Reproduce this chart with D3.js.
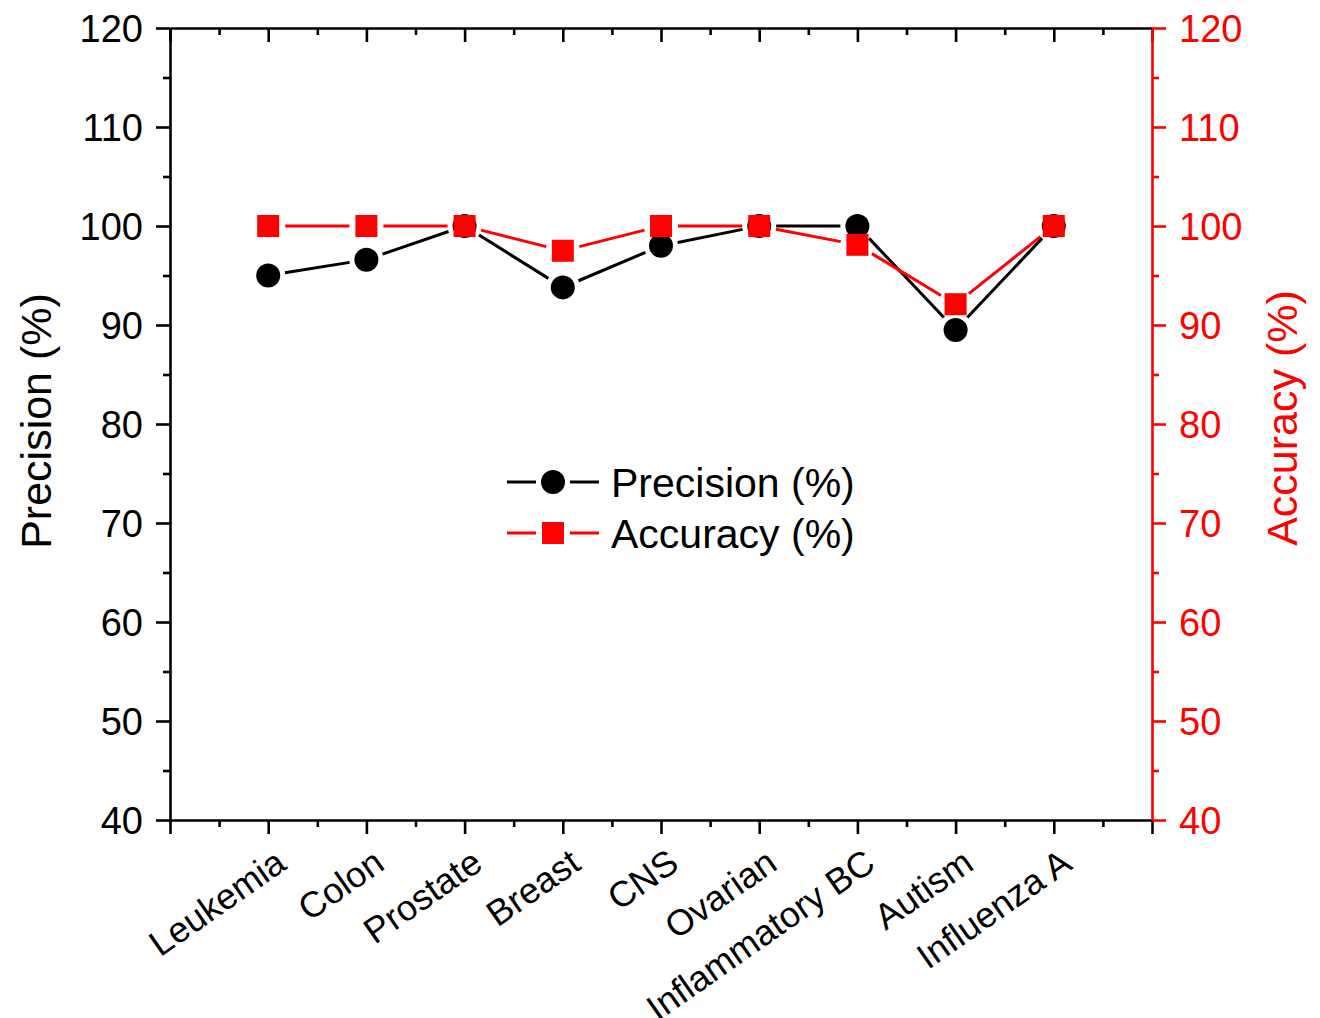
<!DOCTYPE html>
<html>
<head>
<meta charset="utf-8">
<script src="https://cdn.jsdelivr.net/npm/d3@7"></script>
<style>
  html, body { margin: 0; padding: 0; background: #ffffff; }
  svg { display: block; font-family: "Liberation Sans", Arial, sans-serif; }
</style>
</head>
<body>
<svg id="chart" width="1320" height="1018"></svg>
<script>
// Datasets and their classification scores
const categories = ["Leukemia", "Colon", "Prostate", "Breast", "CNS", "Ovarian", "Inflammatory BC", "Autism", "Influenza A"];
const precision = [95, 96.6, 100, 93.8, 98, 100, 100, 89.5, 100];
const accuracy  = [100, 100, 100, 97.5, 100, 100, 98.1, 92.1, 100];
const yTicks = [40, 50, 60, 70, 80, 90, 100, 110, 120];
const seriesNames = ["Precision (%)", "Accuracy (%)"];

const svg = d3.select("#chart");
const plotLeft = 170, plotRight = 1152, plotTop = 28, plotBottom = 820;
const RED = "#ff0000";

// x positions: categories at 1..9 on a 0..10 domain
const x = d3.scaleLinear().domain([0, categories.length + 1]).range([plotLeft, plotRight]);
const yL = d3.scaleLinear().domain([40, 120]).range([plotBottom, plotTop]);
const yR = d3.scaleLinear().domain([40, 120]).range([plotBottom, plotTop]);

const majorX = d3.range(0, categories.length + 2);
const minorX = d3.range(0.5, categories.length + 1, 1);
const minorY = d3.range(45, 120, 10);

function styleAxis(g, color) {
  g.select(".domain").attr("stroke", color).attr("stroke-width", 2.6);
  g.selectAll(".tick line").attr("stroke", color).attr("stroke-width", 2.6);
  g.selectAll(".tick text").attr("fill", color);
}
function minorTicks(g, color) {
  g.select(".domain").remove();
  g.selectAll(".tick line").attr("stroke", color).attr("stroke-width", 2.6);
}

// bottom axis: major ticks, minor ticks between
const xAxisG = svg.append("g").attr("transform", `translate(0,${plotBottom})`)
  .call(d3.axisBottom(x).tickValues(majorX).tickSize(14).tickSizeOuter(0).tickFormat(() => ""));
styleAxis(xAxisG, "#000");
svg.append("g").attr("transform", `translate(0,${plotBottom})`)
  .call(d3.axisBottom(x).tickValues(minorX).tickSize(7).tickSizeOuter(0).tickFormat(() => ""))
  .call(g => minorTicks(g, "#000"));

// top border with inward ticks
const xTopG = svg.append("g").attr("transform", `translate(0,${plotTop})`)
  .call(d3.axisBottom(x).tickValues(majorX).tickSize(14).tickSizeOuter(0).tickFormat(() => ""));
styleAxis(xTopG, "#000");
svg.append("g").attr("transform", `translate(0,${plotTop})`)
  .call(d3.axisBottom(x).tickValues(minorX).tickSize(7).tickSizeOuter(0).tickFormat(() => ""))
  .call(g => minorTicks(g, "#000"));

// rotated category labels
svg.append("g").selectAll("text").data(categories).join("text")
  .attr("transform", (d, i) => `translate(${x(i + 1) + 20},${plotBottom + 48}) rotate(-35)`)
  .attr("text-anchor", "end")
  .attr("font-size", 36)
  .attr("fill", "#000")
  .text(d => d);

// left axis (Precision)
const yLG = svg.append("g").attr("transform", `translate(${plotLeft},0)`)
  .call(d3.axisLeft(yL).tickValues(yTicks).tickSize(14).tickSizeOuter(0).tickPadding(13));
styleAxis(yLG, "#000");
yLG.selectAll(".tick text").attr("font-size", 38).attr("font-family", "Liberation Sans, Arial, sans-serif").attr("dy", "0.35em");
svg.append("g").attr("transform", `translate(${plotLeft},0)`)
  .call(d3.axisLeft(yL).tickValues(minorY).tickSize(7).tickSizeOuter(0).tickFormat(() => ""))
  .call(g => minorTicks(g, "#000"));

// right axis (Accuracy), red
const yRG = svg.append("g").attr("transform", `translate(${plotRight},0)`)
  .call(d3.axisRight(yR).tickValues(yTicks).tickSize(14).tickSizeOuter(0).tickPadding(13));
styleAxis(yRG, RED);
yRG.selectAll(".tick text").attr("font-size", 38).attr("font-family", "Liberation Sans, Arial, sans-serif").attr("dy", "0.35em");
svg.append("g").attr("transform", `translate(${plotRight},0)`)
  .call(d3.axisRight(yR).tickValues(minorY).tickSize(7).tickSizeOuter(0).tickFormat(() => ""))
  .call(g => minorTicks(g, RED));

// axis titles
svg.append("text")
  .attr("transform", `translate(51,421) rotate(-90)`)
  .attr("text-anchor", "middle").attr("font-size", 43).attr("fill", "#000")
  .text("Precision (%)");
svg.append("text")
  .attr("transform", `translate(1297,418) rotate(-90)`)
  .attr("text-anchor", "middle").attr("font-size", 43).attr("fill", RED)
  .text("Accuracy (%)");

// connecting segments that stop short of each marker
const GAP = 17;
function gappedSegments(values, yScale) {
  const pts = values.map((v, i) => [x(i + 1), yScale(v)]);
  const segs = [];
  for (let i = 0; i < pts.length - 1; i++) {
    const [x1, y1] = pts[i], [x2, y2] = pts[i + 1];
    const len = Math.hypot(x2 - x1, y2 - y1);
    if (len <= 2 * GAP) continue;
    const ux = (x2 - x1) / len, uy = (y2 - y1) / len;
    segs.push([x1 + ux * GAP, y1 + uy * GAP, x2 - ux * GAP, y2 - uy * GAP]);
  }
  return segs;
}

const plot = svg.append("g");

// Precision line + circle markers
const R = 12;
plot.append("g").selectAll("line").data(gappedSegments(precision, yL)).join("line")
  .attr("x1", d => d[0]).attr("y1", d => d[1]).attr("x2", d => d[2]).attr("y2", d => d[3])
  .attr("stroke", "#000").attr("stroke-width", 3);
plot.append("g").selectAll("circle").data(precision).join("circle")
  .attr("cx", (d, i) => x(i + 1)).attr("cy", d => yL(d)).attr("r", R)
  .attr("fill", "#000");

// Accuracy line + square markers
const S = 22;
plot.append("g").selectAll("line").data(gappedSegments(accuracy, yR)).join("line")
  .attr("x1", d => d[0]).attr("y1", d => d[1]).attr("x2", d => d[2]).attr("y2", d => d[3])
  .attr("stroke", RED).attr("stroke-width", 3);
plot.append("g").selectAll("rect").data(accuracy).join("rect")
  .attr("x", (d, i) => x(i + 1) - S / 2).attr("y", d => yR(d) - S / 2)
  .attr("width", S).attr("height", S)
  .attr("fill", RED);

// legend
const legend = svg.append("g").attr("transform", "translate(553,482)");
const rows = legend.selectAll("g").data(seriesNames).join("g")
  .attr("transform", (d, i) => `translate(0,${i * 51})`);
rows.append("line").attr("x1", -46).attr("x2", -GAP).attr("y1", 0).attr("y2", 0)
  .attr("stroke", (d, i) => i ? RED : "#000").attr("stroke-width", 3);
rows.append("line").attr("x1", GAP).attr("x2", 46).attr("y1", 0).attr("y2", 0)
  .attr("stroke", (d, i) => i ? RED : "#000").attr("stroke-width", 3);
rows.filter((d, i) => i === 0).append("circle").attr("r", R).attr("fill", "#000");
rows.filter((d, i) => i === 1).append("rect")
  .attr("x", -S / 2).attr("y", -S / 2).attr("width", S).attr("height", S).attr("fill", RED);
rows.append("text").attr("x", 58).attr("y", 15)
  .attr("font-size", 41).attr("fill", "#000").text(d => d);
</script>
</body>
</html>
